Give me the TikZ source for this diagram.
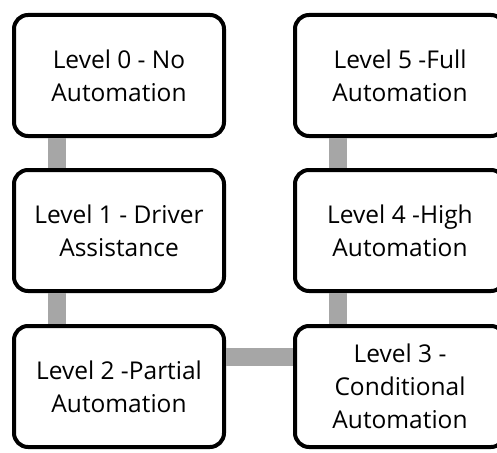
\documentclass[tikz,border=0pt]{standalone}
\usepackage{fontspec}
\setmainfont{Open Sans}
\usetikzlibrary{positioning}
\definecolor{linkgray}{RGB}{166,166,166}

\begin{document}
\begin{tikzpicture}[x=1pt,y=-1pt,every node/.style={stage},node distance=30pt,
        stage/.style={draw,line width=4pt,rounded corners=14pt,fill=white,minimum width=210pt,minimum height=121pt,align=center,font=\fontsize{24.5}{33}\selectfont},
        link/.style={line width=18pt,draw=linkgray}]
   \useasboundingbox (0,0) rectangle (497,452);
   \clip (0,0) rectangle (497,452);

   \node (L0) at (119,75.5) {Level 0 - No\\Automation};
   \node (L1) [below=of L0] {Level 1 - Driver\\Assistance};
   \node (L2) [below=31pt of L1] {Level 2 -Partial\\Automation};

   \node (L5) [right=67pt of L0] {Level 5 -Full\\Automation};
   \node (L4) [below=of L5] {Level 4 -High\\Automation};
   \node (L3) [below=31pt of L4] {Level 3 -\\Conditional\\Automation};

   \draw[link] ([xshift=45pt]L0.south west) -- ([xshift=45pt]L1.north west);
   \draw[link] ([xshift=45pt]L1.south west) -- ([xshift=45pt]L2.north west);
   \draw[link] ([yshift=30pt]L2.east) -- ([yshift=30pt]L3.west);
   \draw[link] ([xshift=45pt]L3.north west) -- ([xshift=45pt]L4.south west);
   \draw[link] ([xshift=45pt]L4.north west) -- ([xshift=45pt]L5.south west);
\end{tikzpicture}
\end{document}
